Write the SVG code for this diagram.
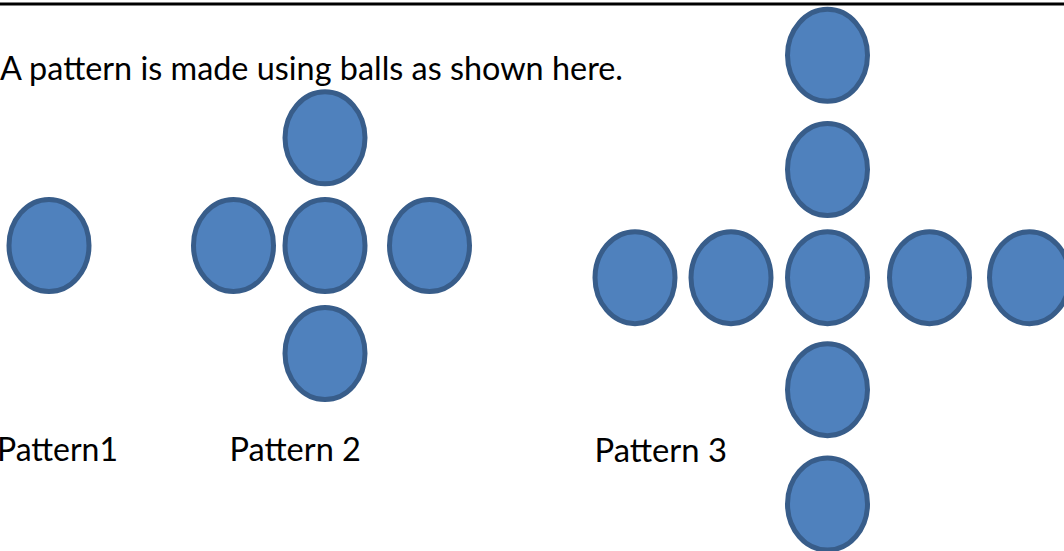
<svg xmlns="http://www.w3.org/2000/svg" width="1064" height="551" viewBox="0 0 1064 551">
<style>
.ball{fill:#4F81BD;stroke:#385D8A;stroke-width:5}
.t{font-family:Lato,"Open Sans","Liberation Sans",sans-serif;font-size:32px;fill:#000}
</style>
<defs>
<ellipse id="b" cx="0" cy="0" rx="40" ry="46" class="ball"/>
</defs>
<rect width="1064" height="551" fill="#fff"/>
<line x1="0" y1="4" x2="1064" y2="4" stroke="#000" stroke-width="3"/>
<text class="t" x="0" y="79.5" textLength="623" lengthAdjust="spacingAndGlyphs">A pattern is made using balls as shown here.</text>
<g id="pattern1">
<g id="p1-ball"><use href="#b" x="49" y="245.5"/></g>
<text class="t" x="-3" y="460.7" textLength="121" lengthAdjust="spacingAndGlyphs">Pattern1</text>
</g>
<g id="pattern2">
<g id="p2-top"><use href="#b" x="325" y="137.8"/></g>
<g id="p2-left"><use href="#b" x="233.5" y="245.5"/></g>
<g id="p2-center"><use href="#b" x="325" y="245.5"/></g>
<g id="p2-right"><use href="#b" x="429.5" y="245.5"/></g>
<g id="p2-bottom"><use href="#b" x="325" y="353.5"/></g>
<text class="t" x="229.5" y="460.7" textLength="131.5" lengthAdjust="spacingAndGlyphs">Pattern 2</text>
</g>
<g id="pattern3">
<g id="p3-top1"><use href="#b" x="827.5" y="55.3"/></g>
<g id="p3-top2"><use href="#b" x="827.5" y="169.5"/></g>
<g id="p3-left2"><use href="#b" x="635" y="277.7"/></g>
<g id="p3-left1"><use href="#b" x="731" y="277.7"/></g>
<g id="p3-center"><use href="#b" x="827.5" y="277.7"/></g>
<g id="p3-right1"><use href="#b" x="929.5" y="277.7"/></g>
<g id="p3-right2"><use href="#b" x="1029.5" y="277.7"/></g>
<g id="p3-bottom1"><use href="#b" x="827.5" y="389.7"/></g>
<g id="p3-bottom2"><use href="#b" x="827.5" y="504"/></g>
<text class="t" x="594.5" y="461.7" textLength="132.5" lengthAdjust="spacingAndGlyphs">Pattern 3</text>
</g>
</svg>
